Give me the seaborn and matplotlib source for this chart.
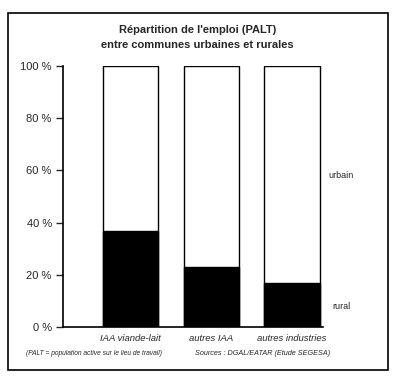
import seaborn as sns
import matplotlib.pyplot as plt
import pandas as pd
from matplotlib.patches import Rectangle

sns.set_style("white")
plt.rcParams["font.family"] = ["Liberation Sans", "DejaVu Sans"]

# data
categories = ["IAA viande-lait", "autres IAA", "autres industries"]
rural = [37, 23, 17]
urbain = [63, 77, 83]

df = pd.DataFrame({"secteur": categories, "rural": rural, "urbain": urbain})
df["total"] = df["rural"] + df["urbain"]

fig = plt.figure(figsize=(4.03, 3.84), dpi=100)
ax = fig.add_axes([0.156, 0.148, 0.645, 0.68])

sns.barplot(data=df, x="secteur", y="total", color="white", edgecolor="black",
            linewidth=1.0, width=0.68, ax=ax)
sns.barplot(data=df, x="secteur", y="rural", color="black", edgecolor="black",
            linewidth=1.0, width=0.68, ax=ax)

ax.set_ylim(0, 100)
ax.set_xlim(-0.83, 2.38)
ax.set_yticks([0, 20, 40, 60, 80, 100])
ax.set_yticklabels(["0 %", "20 %", "40 %", "60 %", "80 %", "100 %"], fontsize=8)
ax.tick_params(axis="y", direction="out", length=5, width=1, left=True, pad=3)
ax.tick_params(axis="x", length=0, pad=5)
ax.set_xticks(range(len(categories)))
ax.set_xticklabels(categories, fontsize=6.8, style="italic")
ax.set_xlabel("")
ax.set_ylabel("")
for s in ["top", "right"]:
    ax.spines[s].set_visible(False)
for s in ["left", "bottom"]:
    ax.spines[s].set_color("black")
    ax.spines[s].set_linewidth(1.2)

# series labels on the right of the last bar
ax.text(2.45, 58, "urbain", fontsize=6.5, va="center", ha="left")
ax.text(2.5, 8, "rural", fontsize=6.5, va="center", ha="left")

fig.text(0.49, 0.902, "Répartition de l'emploi (PALT)\nentre communes urbaines et rurales",
         ha="center", va="center", fontsize=8, fontweight="bold", linespacing=1.55)
fig.text(0.065, 0.080, "(PALT = population active sur le lieu de travail)",
         fontsize=4.8, style="italic", va="center")
fig.text(0.484, 0.080, "Sources : DGAL/EATAR (Etude SEGESA)",
         fontsize=5.2, style="italic", va="center")

fig.patches.append(Rectangle((0.02, 0.036), 0.943, 0.93, transform=fig.transFigure,
                             fill=False, edgecolor="black", linewidth=1.2))

fig.savefig("out.png", dpi=100)
